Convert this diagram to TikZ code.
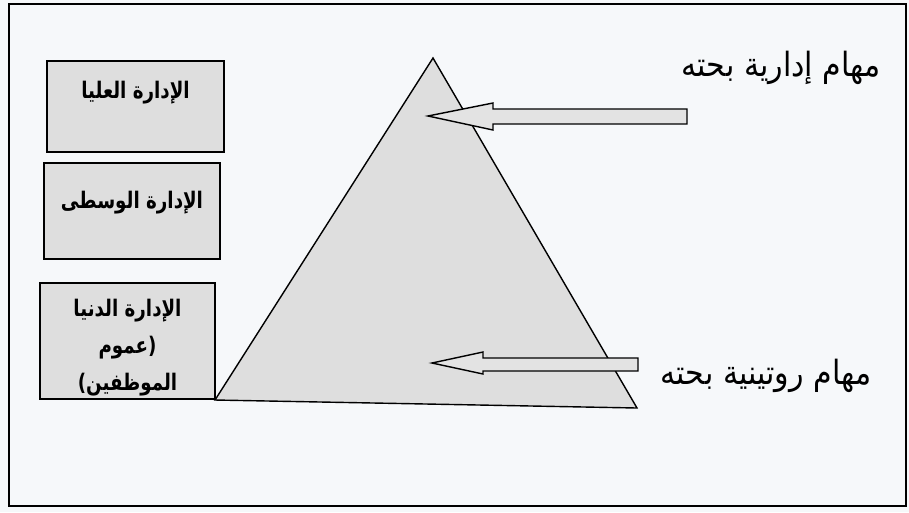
\documentclass[tikz,border=0pt]{standalone}
\usepackage{fontspec}
\setmainfont{Liberation Sans}
\newfontfamily\arabicfont[Script=Arabic, FakeStretch=0.9]{DejaVu Sans}
\newfontfamily\arabicnarrow[Script=Arabic, FakeStretch=0.8]{DejaVu Sans}
\TeXXeTstate=1
\usetikzlibrary{positioning}
\definecolor{paper}{RGB}{246,248,250}
\definecolor{scangray}{RGB}{222,222,222}

\begin{document}
\begin{tikzpicture}[x=0.02cm, y=-0.02cm,
    mgmtbox/.style={draw, line width=0.8pt, fill=scangray, inner sep=0pt},
    boxtext/.style={font=\arabicnarrow\bfseries\fontsize{13}{21}\selectfont, align=center},
    tasktext/.style={font=\arabicfont\fontsize{19}{22}\selectfont},
    blockarrow/.style={draw, line width=0.8pt, fill=scangray!85!white, line join=miter}]
    % Page and frame
    \fill[paper] (0, 0) rectangle (909, 512);
    \useasboundingbox (0, 0) rectangle (909, 512);
    \draw[line width=0.9pt] (9, 4) rectangle (906, 506);

    % Levels of management
    \node[mgmtbox, minimum width=3.54cm, minimum height=1.82cm] (upper) at (135.5, 106.5) {};
    \node[mgmtbox, minimum width=3.52cm, minimum height=1.92cm] (middle) at (132, 211) {};
    \node[mgmtbox, minimum width=3.5cm, minimum height=2.32cm] (lower) at (127.5, 341) {};

    \node[boxtext, below=0.3cm of upper.north] {\beginR الإدارة العليا\endR};
    \node[boxtext, below=0.46cm of middle.north] {\beginR الإدارة الوسطى\endR};
    \node[boxtext, below=0.22cm of lower.north] {\beginR الإدارة الدنيا\endR\\
        \beginR (عموم\endR\\ \beginR الموظفين)\endR};

    % Pyramid
    \draw[line width=0.8pt, fill=scangray, line join=miter] (433, 58) -- (637, 408) -- (215, 400) -- cycle;

    % Block arrows
    \draw[blockarrow] (687, 109) -- (493, 109) -- (493, 103) -- (428, 116)
        -- (493, 130) -- (493, 124) -- (687, 124) -- cycle;
    \draw[blockarrow] (638, 358) -- (483, 358) -- (483, 352) -- (432, 363)
        -- (483, 374) -- (483, 371) -- (638, 371) -- cycle;

    % Labels of the arrows
    \node[tasktext] (admin) at (781, 68) {\beginR مهام إدارية بحته\endR};
    \node[tasktext] (routine) at (766, 376) {\beginR مهام روتينية بحته\endR};
\end{tikzpicture}
\end{document}
